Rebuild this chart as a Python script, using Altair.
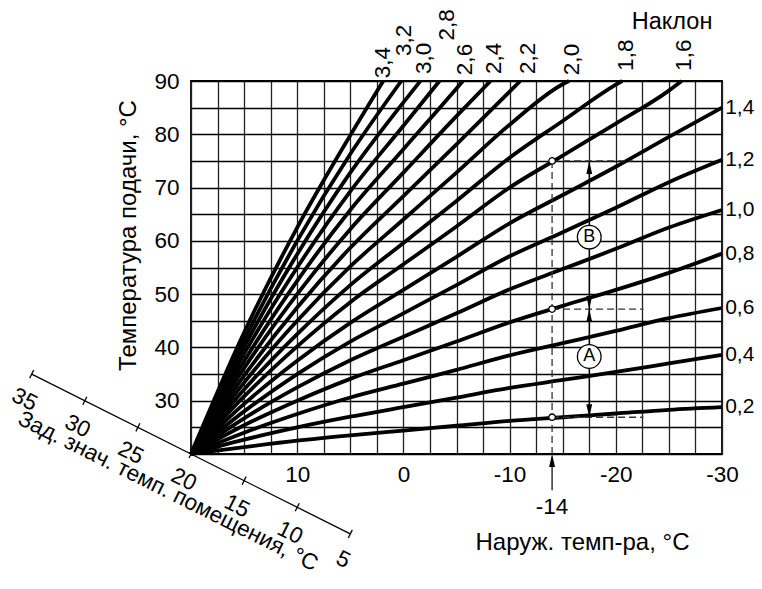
import altair as alt
import pandas as pd

FONT = "Liberation Sans"
FS = 22.5      # tick-type labels
FT = 24        # titles

# ---------------- data ----------------
X_GRID = [20, 17.5, 15, 12.5, 10, 7.5, 5, 2.5, 0, -2.5, -5, -7.5, -10, -12.5,
          -15, -17.5, -20, -22.5, -25, -27.5, -30]
Y_GRID = [20, 25, 30, 35, 40, 45, 50, 55, 60, 65, 70, 75, 80, 85, 90]

SLOPES = ["0,2", "0,4", "0,6", "0,8", "1,0", "1,2", "1,4", "1,6", "1,8",
          "2,0", "2,2", "2,4", "2,6", "2,8", "3,0", "3,2", "3,4"]

XF = [20, 15, 10, 5, 0, -5, -10, -15, -20, -25, -30]
CURVE_X = [
    XF, XF, XF, XF, XF, XF, XF,
    [20, 15, 10, 5, 0, -5, -10, -15, -20, -25, -26.2],
    [20, 15, 10, 5, 0, -5, -10, -15, -20, -20.6],
    [20, 15, 10, 5, 0, -5, -10, -15, -15.6],
    [20, 15, 10, 5, 0, -5, -10, -11.0],
    [20, 15, 10, 5, 0, -5, -8.2],
    [20, 15, 10, 5, 0, -5, -5.6],
    [20, 15, 10, 5, 0, -3.4],
    [20, 15, 10, 5, 0, -1.6],
    [20, 15, 10, 5, 0.2],
    [20, 15, 10, 5, 1.9],
]
CURVE_Y = [
    [20, 21.3, 22.5, 23.5, 24.4, 25.3, 26.2, 26.9, 27.6, 28.3, 28.8],
    [20, 22.7, 25.0, 27.0, 28.8, 30.6, 32.4, 33.9, 35.4, 37.0, 38.6],
    [20, 24.0, 27.5, 30.6, 33.2, 35.8, 38.5, 40.8, 43.1, 45.5, 47.4],
    [20, 25.4, 30.0, 34.1, 37.6, 41.1, 44.7, 47.8, 50.8, 54.0, 57.6],
    [20, 26.7, 32.5, 37.6, 42.0, 46.4, 50.9, 54.7, 58.5, 62.5, 65.8],
    [20, 28.0, 35.0, 41.1, 46.4, 51.7, 57.1, 61.6, 66.2, 71.0, 75.2],
    [20, 29.4, 37.5, 44.6, 50.8, 57.0, 63.3, 68.6, 73.9, 79.5, 85.0],
    [20, 30.8, 40.2, 48.5, 55.6, 62.7, 70.0, 76.0, 82.0, 88.2, 90],
    [20, 32.1, 42.5, 51.7, 59.6, 67.5, 75.6, 82.5, 89.3, 90],
    [20, 33.4, 45.0, 55.2, 64.0, 72.8, 81.8, 89.4, 90],
    [20, 34.7, 47.5, 58.7, 68.4, 78.1, 88.0, 90],
    [20, 36.1, 50.0, 62.2, 72.8, 83.4, 90],
    [20, 37.4, 52.5, 65.8, 77.2, 88.6, 90],
    [20, 38.8, 55.0, 69.3, 81.6, 90],
    [20, 40.1, 57.5, 72.8, 86.0, 90],
    [20, 41.4, 60.0, 76.3, 90],
    [20, 42.8, 62.5, 79.8, 90],
]

RIGHT_LABELS = ["1,4", "1,2", "1,0", "0,8", "0,6", "0,4", "0,2"]
RIGHT_Y = [85.0, 75.2, 65.8, 57.6, 47.4, 38.6, 28.8]
RIGHT_X = -30.3

TOP_LABELS = ["3,4", "3,2", "3,0", "2,8", "2,6", "2,4", "2,2", "2,0", "1,8", "1,6"]
TOP_X = [1.9, -0.1, -1.9, -4.1, -5.8, -8.5, -11.7, -15.9, -21.0, -26.4]
TOP_Y = [90.5, 94.7, 91.3, 97.6, 91.1, 91.3, 91.3, 91.1, 91.9, 91.9]

ROOM_T = [35, 30, 25, 20, 15, 10, 5]
ROOM_LABELS = ["35", "30", "25", "20", "15", "10", "5"]

EX_X = -14
EX_Y = [75.0, 47.2, 26.9]
DASH_END_X = [-21.6, -22.6, -22.6]
ARROW_X = -17.5
CIRCLE_LABELS = ["B", "A"]
CIRCLE_Y = [60.7, 38.3]

# ---------------- scales / axes ----------------
xs = alt.Scale(domain=[20, -30], nice=False, zero=False)
ys = alt.Scale(domain=[20, 90], nice=False, zero=False)

x_axis = alt.Axis(
    values=X_GRID,
    labelExpr="(datum.value % 10 == 0 && datum.value < 20) ? '' + datum.value : ''",
    grid=True, gridColor="#222", gridWidth=1.3, ticks=False, domain=False,
    labelFont=FONT, labelFontSize=FS, labelColor="#000", labelPadding=9,
    labelFlush=False, labelOverlap=False,
    title="Наруж. темп-ра, °C", titleFont=FONT, titleFontSize=FT,
    titleFontWeight="normal", titleColor="#000", titleX=391, titleY=88,
    titleAlign="center", titleBaseline="middle",
)
y_axis = alt.Axis(
    values=Y_GRID,
    labelExpr="(datum.value % 10 == 0 && datum.value >= 30) ? '' + datum.value : ''",
    grid=True, gridColor="#000", gridWidth=1.3, ticks=False, domain=False,
    labelFont=FONT, labelFontSize=FS, labelColor="#000", labelPadding=12,
    labelFlush=False, labelOverlap=False,
    title="Температура подачи, °C", titleFont=FONT, titleFontSize=FT,
    titleFontWeight="normal", titleColor="#000", titleX=-63, titleY=154,
    titleAlign="center", titleBaseline="middle", titleAngle=270,
)


def X(field="x"):
    return alt.X(f"{field}:Q", scale=xs, axis=x_axis)


def Y(field="y"):
    return alt.Y(f"{field}:Q", scale=ys, axis=y_axis)


# ---------------- layers ----------------
rows = []
for lab, cx, cy in zip(SLOPES, CURVE_X, CURVE_Y):
    for i, (a, b) in enumerate(zip(cx, cy)):
        rows.append({"slope": lab, "x": a, "y": b, "i": i})
curves = alt.Chart(pd.DataFrame(rows)).mark_line(
    color="#000", strokeWidth=3.8, interpolate="monotone", strokeCap="butt"
).encode(x=X(), y=Y(), detail="slope:N", order="i:Q")

right_df = pd.DataFrame({"t": RIGHT_LABELS, "y": RIGHT_Y, "x": [RIGHT_X] * len(RIGHT_Y)})
right_txt = alt.Chart(right_df).mark_text(
    align="left", baseline="middle", font=FONT, fontSize=21, color="#000"
).encode(x=X(), y=Y(), text="t:N")

top_df = pd.DataFrame({"t": TOP_LABELS, "x": TOP_X, "y": TOP_Y})
top_txt = alt.Chart(top_df).mark_text(
    align="left", baseline="middle", angle=270, font=FONT, fontSize=FS, color="#000"
).encode(x=X(), y=Y(), text="t:N")

title_df = pd.DataFrame({"t": ["Наклон"], "x": [-25.3], "y": [101.0]})
title_txt = alt.Chart(title_df).mark_text(
    align="center", baseline="middle", font=FONT, fontSize=23.5, color="#000"
).encode(x=X(), y=Y(), text="t:N")

# diagonal room-temperature axis: value t sits at (t, t)
diag_line_df = pd.DataFrame({"x": [ROOM_T[0], ROOM_T[-1]], "y": [ROOM_T[0], ROOM_T[-1]]})
diag_line = alt.Chart(diag_line_df).mark_line(color="#000", strokeWidth=1.3).encode(x=X(), y=Y())
diag_df = pd.DataFrame({"x": ROOM_T, "y": ROOM_T, "t": ROOM_LABELS})
diag_ticks = alt.Chart(diag_df).mark_point(
    shape="M0,-1L0,1", angle=26.5, size=81, filled=False, stroke="#000", strokeWidth=1.3, opacity=1
).encode(x=X(), y=Y())
diag_labels = alt.Chart(diag_df).mark_text(
    align="center", baseline="middle", angle=26.5, dx=5, dy=26, font=FONT, fontSize=FS, color="#000"
).encode(x=X(), y=Y(), text="t:N")
diag_title_df = pd.DataFrame({"x": [20], "y": [20], "t": ["Зад. знач. темп. помещения, °C"]})
diag_title = alt.Chart(diag_title_df).mark_text(
    align="center", baseline="middle", angle=26.5, dx=-4, dy=43.5, font=FONT, fontSize=22.5, color="#000"
).encode(x=X(), y=Y(), text="t:N")

# example annotation
dash_df = pd.DataFrame({
    "x": [EX_X] + [EX_X] * 3,
    "y": [20] + EX_Y,
    "x2": [EX_X] + DASH_END_X,
    "y2": [EX_Y[0]] + EX_Y,
})
dashes = alt.Chart(dash_df).mark_rule(color="#333", strokeWidth=1.3, strokeDash=[7, 4]).encode(
    x=X(), y=Y(), x2="x2:Q", y2="y2:Q")

arrow_df = pd.DataFrame({"x": [ARROW_X, EX_X], "y": [EX_Y[2], 13.2], "y2": [EX_Y[0], 19.5]})
arrow_lines = alt.Chart(arrow_df).mark_rule(color="#000", strokeWidth=1.2).encode(
    x=X(), y=Y(), y2="y2:Q")

up_df = pd.DataFrame({"x": [ARROW_X, ARROW_X, EX_X], "y": [EX_Y[0], EX_Y[1], 20]})
down_df = pd.DataFrame({"x": [ARROW_X, ARROW_X], "y": [EX_Y[1], EX_Y[2]]})
up_heads = alt.Chart(up_df).mark_point(
    shape="M0,0L0.45,2L-0.45,2Z", size=169, filled=True, color="#000", opacity=1
).encode(x=X(), y=Y())
down_heads = alt.Chart(down_df).mark_point(
    shape="M0,0L0.45,-2L-0.45,-2Z", size=169, filled=True, color="#000", opacity=1
).encode(x=X(), y=Y())

small_df = pd.DataFrame({"x": [EX_X] * 3, "y": EX_Y})
small_circ = alt.Chart(small_df).mark_point(
    shape="circle", size=42, filled=True, fill="#fff", stroke="#000", strokeWidth=1.3, opacity=1
).encode(x=X(), y=Y())

big_df = pd.DataFrame({"x": [ARROW_X] * 2, "y": CIRCLE_Y, "t": CIRCLE_LABELS})
big_circ = alt.Chart(big_df).mark_point(
    shape="circle", size=560, filled=True, fill="#fff", stroke="#000", strokeWidth=1.3, opacity=1
).encode(x=X(), y=Y())
big_txt = alt.Chart(big_df).mark_text(
    align="center", baseline="middle", font=FONT, fontSize=18, color="#000"
).encode(x=X(), y=Y(), text="t:N")

ex_df = pd.DataFrame({"x": [EX_X], "y": [10.1], "t": ["-14"]})
ex_txt = alt.Chart(ex_df).mark_text(
    align="center", baseline="middle", font=FONT, fontSize=FS, color="#000"
).encode(x=X(), y=Y(), text="t:N")

chart = alt.layer(
    curves, dashes, arrow_lines, up_heads, down_heads, small_circ, big_circ, big_txt,
    right_txt, top_txt, title_txt, diag_line, diag_ticks, diag_labels, diag_title, ex_txt,
).properties(
    width=531, height=373,
    autosize=alt.AutoSizeParams(type="none"),
    padding={"left": 183, "top": 73, "right": 32, "bottom": 122},
    background="#ffffff",
).configure_view(stroke="#000", strokeWidth=1.8)

chart.save("out.html", embed_options={"renderer": "svg", "actions": False})
